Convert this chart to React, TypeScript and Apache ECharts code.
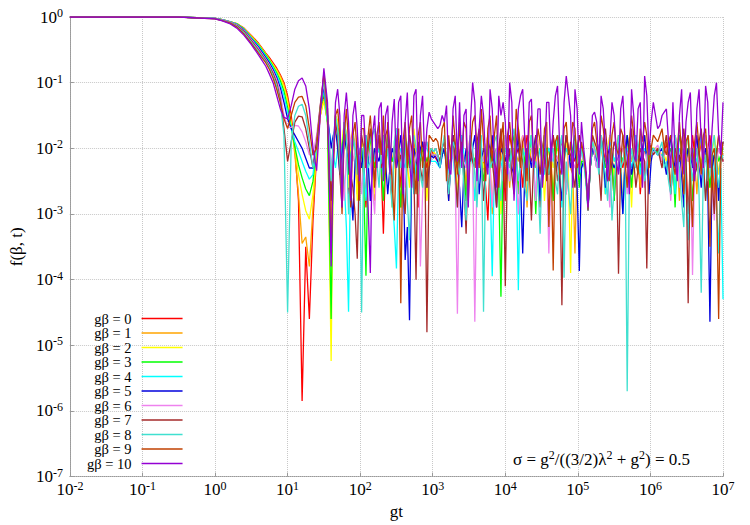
import React, { useEffect, useRef } from "react";
import * as echarts from "echarts";

// log10(gt) sample positions
const gtExp = [
  -2, -1, -0.5, 0, 0.1, 0.2, 0.3, 0.4, 0.5, 0.6, 0.7, 0.75, 0.8, 0.85, 0.9, 0.95, 1.0, 1.05, 1.1, 1.15, 1.2, 1.25, 1.3, 1.35, 1.4, 1.45, 1.5, 1.55,
  1.6, 1.63, 1.66, 1.69, 1.72, 1.75, 1.78, 1.81, 1.84, 1.87, 1.9, 1.93, 1.96, 1.99, 2.02, 2.05, 2.08, 2.11, 2.14, 2.17,
  2.2, 2.23, 2.26, 2.29, 2.32, 2.35, 2.38, 2.41, 2.44, 2.47, 2.5, 2.53, 2.56, 2.59, 2.62, 2.65, 2.68, 2.71, 2.74, 2.77,
  2.8, 2.83, 2.86, 2.89, 2.92, 2.95, 2.98, 3.01, 3.04, 3.07, 3.1, 3.13, 3.16, 3.19, 3.22, 3.25, 3.28, 3.31, 3.34, 3.37,
  3.4, 3.43, 3.46, 3.49, 3.52, 3.55, 3.58, 3.61, 3.64, 3.67, 3.7, 3.73, 3.76, 3.79, 3.82, 3.85, 3.88, 3.91, 3.94, 3.97,
  4, 4.03, 4.06, 4.09, 4.12, 4.15, 4.18, 4.21, 4.24, 4.27, 4.3, 4.33, 4.36, 4.39, 4.42, 4.45, 4.48, 4.51, 4.54, 4.57,
  4.6, 4.63, 4.66, 4.69, 4.72, 4.75, 4.78, 4.81, 4.84, 4.87, 4.9, 4.93, 4.96, 4.99, 5.02, 5.05, 5.08, 5.11, 5.14, 5.17,
  5.2, 5.23, 5.26, 5.29, 5.32, 5.35, 5.38, 5.41, 5.44, 5.47, 5.5, 5.53, 5.56, 5.59, 5.62, 5.65, 5.68, 5.71, 5.74, 5.77,
  5.8, 5.83, 5.86, 5.89, 5.92, 5.95, 5.98, 6.01, 6.04, 6.07, 6.1, 6.13, 6.16, 6.19, 6.22, 6.25, 6.28, 6.31, 6.34, 6.37,
  6.4, 6.43, 6.46, 6.49, 6.52, 6.55, 6.58, 6.61, 6.64, 6.67, 6.7, 6.73, 6.76, 6.79, 6.82, 6.85, 6.88, 6.91, 6.94, 6.97,
  7,
];

// log10 f(β,t) for each gβ
const gb0 = [
  0, 0, 0, -0.02, -0.04, -0.07, -0.1, -0.17, -0.28, -0.4, -0.55, -0.62, -0.7, -0.78, -0.88, -1.0, -1.2, -1.5, -2.0, -2.8, -5.85, -3.5, -4.6, -3.1, -2.1, -1.5, -1.2, -1.6,
  -3.0, -2.0, -1.6, -1.7, -2.2, -2.0, -1.7, -1.9, -2.7, -2.1, -1.8, -2.0, -2.2, -2.1, -2.0, -2.2, -2.9, -2.2, -1.8, -2.0,
  -2.3, -2.1, -1.8, -2.3, -3.3, -2.2, -1.9, -2.0, -2.2, -2.1, -1.7, -2.1, -2.6, -2.1, -1.9, -2.0, -2.2, -2.1, -1.8, -2.2,
  -2.9, -2.2, -1.9, -2.1, -2.3, -2.1, -2.0, -2.1, -2.15, -2.2, -2.2, -2.1, -2.0, -2.2, -2.7, -2.1, -1.8, -2.0, -2.2, -2.1,
  -1.8, -2.2, -2.7, -2.1, -1.9, -2.1, -2.3, -2.1, -1.8, -2.1, -2.2, -2.6, -3.1, -2.2, -1.9, -2.1, -2.4, -2.1, -1.8, -2.2,
  -2.8, -2.1, -1.8, -2.0, -2.2, -2.1, -2.0, -2.2, -2.6, -2.1, -1.8, -2.0, -2.2, -2.1, -2.0, -2.3, -2.9, -2.2, -1.8, -2.1,
  -2.3, -2.1, -1.8, -2.1, -2.2, -2.0, -1.9, -2.1, -2.7, -2.2, -1.9, -2.1, -2.2, -2.0, -1.8, -2.0, -2.1, -2.4, -2.9, -2.3,
  -2.0, -2.1, -2.3, -2.1, -1.8, -2.0, -2.2, -2.1, -2.0, -2.2, -2.8, -2.1, -1.8, -2.1, -2.3, -2.1, -2.0, -2.1, -2.2, -2.0,
  -1.8, -2.1, -2.7, -2.2, -2.0, -2.1, -2.2, -2.1, -2.0, -2.05, -2.05, -2.1, -2.2, -2.1, -1.9, -2.2, -2.6, -2.1, -1.8, -2.0,
  -2.2, -2.1, -1.8, -2.2, -3.0, -2.2, -1.8, -2.1, -2.3, -2.1, -1.9, -2.1, -2.2, -2.0, -1.8, -2.2, -2.7, -2.1, -2.0, -2.1,
  -2.2,
];
const gb1 = [
  0, 0, 0, -0.02, -0.04, -0.07, -0.1, -0.18, -0.29, -0.41, -0.56, -0.64, -0.72, -0.8, -0.9, -1.03, -1.25, -1.6, -2.1, -2.7, -3.45, -3.35, -3.8, -2.9, -2.1, -1.5, -1.25, -1.6,
  -3.2, -2.0, -1.5, -1.6, -2.3, -2.0, -1.6, -1.8, -2.2, -1.9, -1.7, -2.0, -2.7, -2.1, -1.9, -2.0, -2.1, -2.0, -1.8, -2.3,
  -2.8, -2.1, -1.8, -2.1, -2.3, -2.1, -2.0, -2.1, -2.2, -2.0, -1.7, -2.2, -2.9, -2.2, -2.0, -2.1, -2.2, -2.0, -1.8, -2.1,
  -2.6, -2.1, -2.0, -2.1, -2.2, -2.1, -2.0, -2.05, -2.1, -2.15, -2.15, -2.1, -2.0, -2.2, -2.8, -2.1, -1.8, -2.0, -2.2, -2.1,
  -2.0, -2.2, -2.6, -2.1, -1.8, -2.1, -2.3, -2.1, -2.0, -2.1, -2.2, -2.0, -1.8, -2.2, -3.0, -2.2, -2.0, -2.1, -2.2, -2.0,
  -1.8, -2.1, -2.6, -2.1, -2.0, -2.1, -2.2, -2.0, -1.8, -2.2, -2.9, -2.2, -2.0, -2.1, -2.3, -2.0, -1.8, -2.0, -2.2, -2.1,
  -2.0, -2.2, -2.7, -2.1, -1.8, -2.0, -2.2, -2.1, -2.0, -2.1, -2.3, -2.4, -3.6, -2.2, -2.0, -2.1, -2.1, -2.4, -2.85, -2.3,
  -1.8, -2.0, -2.2, -2.1, -2.0, -2.2, -2.7, -2.1, -1.8, -2.0, -2.2, -2.1, -2.0, -2.2, -2.9, -2.1, -1.8, -2.0, -2.2, -2.1,
  -2.0, -2.2, -2.6, -2.1, -1.8, -2.1, -2.2, -2.0, -2.0, -2.0, -2.0, -2.1, -2.2, -2.0, -1.8, -2.1, -2.6, -2.1, -2.0, -2.2,
  -2.8, -2.1, -1.8, -2.0, -2.2, -2.1, -2.0, -2.2, -2.7, -2.1, -1.8, -2.0, -2.2, -2.1, -2.0, -2.2, -3.0, -2.1, -1.8, -2.0,
  -2.1,
];
const gb2 = [
  0, 0, 0, -0.02, -0.04, -0.07, -0.1, -0.18, -0.3, -0.42, -0.57, -0.65, -0.73, -0.82, -0.93, -1.07, -1.3, -1.62, -2.0, -2.4, -2.7, -2.95, -3.08, -2.7, -2.0, -1.5, -1.28, -1.6,
  -5.24, -2.2, -1.5, -1.6, -2.1, -1.9, -1.6, -1.8, -2.6, -2.0, -1.8, -2.1, -2.8, -2.1, -1.9, -2.0, -2.2, -2.1, -1.8, -2.2,
  -2.7, -2.1, -1.8, -2.0, -2.2, -2.1, -2.0, -2.3, -2.9, -2.2, -1.8, -2.0, -2.2, -2.1, -2.0, -2.2, -2.6, -2.1, -1.7, -2.0,
  -2.2, -2.1, -2.0, -2.2, -2.8, -2.1, -2.0, -2.05, -2.1, -2.15, -2.2, -2.1, -2.0, -2.2, -2.5, -2.1, -1.8, -2.1, -2.7, -2.2,
  -2.0, -2.1, -2.2, -2.0, -1.8, -2.2, -2.8, -2.2, -2.0, -2.1, -2.3, -2.1, -1.8, -2.0, -2.2, -2.1, -2.0, -2.3, -3.0, -2.1,
  -1.8, -2.0, -2.2, -2.1, -2.0, -2.2, -2.6, -2.1, -1.8, -2.1, -2.3, -2.1, -2.0, -2.1, -2.2, -2.0, -1.8, -2.2, -2.8, -2.2,
  -2.0, -2.1, -2.3, -2.1, -2.0, -2.1, -2.2, -2.0, -1.8, -2.4, -3.9, -2.2, -2.0, -2.1, -2.3, -2.2, -2.1, -2.4, -2.85, -2.3,
  -1.8, -2.0, -2.1, -2.0, -2.0, -2.1, -2.7, -2.1, -1.8, -2.1, -2.4, -2.1, -2.0, -2.1, -2.2, -2.0, -1.8, -2.2, -2.9, -2.1,
  -2.0, -2.1, -2.2, -2.0, -1.8, -2.1, -2.3, -2.1, -2.0, -2.0, -2.0, -2.05, -2.1, -2.1, -2.2, -2.0, -1.8, -2.1, -2.7, -2.1,
  -2.0, -2.1, -2.2, -2.0, -1.8, -2.2, -2.8, -2.2, -2.0, -2.1, -2.2, -2.1, -2.0, -2.1, -2.6, -2.1, -1.8, -2.1, -2.4, -2.1,
  -2.0,
];
const gb3 = [
  0, 0, 0, -0.02, -0.04, -0.07, -0.105, -0.185, -0.31, -0.43, -0.58, -0.66, -0.75, -0.85, -0.97, -1.13, -1.38, -1.68, -1.98, -2.25, -2.45, -2.62, -2.72, -2.5, -1.95, -1.4, -1.15, -1.6,
  -4.6, -2.1, -1.6, -1.7, -2.2, -2.0, -1.7, -2.0, -2.4, -2.1, -1.9, -2.0, -2.2, -2.4, -2.0, -2.6, -3.94, -2.2, -1.8, -2.1,
  -2.3, -2.1, -2.0, -2.2, -2.8, -2.1, -1.8, -2.0, -2.2, -2.1, -2.0, -2.3, -2.9, -2.2, -1.8, -2.1, -2.3, -2.1, -2.0, -2.2,
  -2.7, -2.2, -2.0, -2.1, -2.2, -2.1, -2.1, -2.1, -2.1, -2.15, -2.2, -2.1, -2.0, -2.2, -2.6, -2.1, -1.8, -2.1, -2.3, -2.1,
  -2.0, -2.3, -2.8, -2.2, -2.0, -2.1, -2.2, -2.0, -1.8, -2.2, -2.5, -2.2, -2.0, -2.1, -2.3, -2.1, -2.0, -2.6, -4.26, -2.2,
  -2.0, -2.1, -2.2, -2.0, -1.8, -2.1, -2.7, -2.1, -2.0, -2.2, -2.3, -2.1, -1.8, -2.2, -3.0, -2.1, -2.0, -2.1, -2.2, -2.0,
  -2.0, -2.3, -2.8, -2.2, -1.8, -2.0, -2.3, -2.1, -2.0, -2.1, -2.2, -2.0, -1.8, -2.1, -2.6, -2.2, -2.2, -2.4, -2.9, -2.3,
  -2.0, -2.1, -2.2, -2.0, -1.8, -2.1, -2.3, -2.1, -2.0, -2.2, -2.8, -2.2, -2.0, -2.1, -2.2, -2.0, -1.8, -2.2, -2.6, -2.1,
  -2.0, -2.1, -2.3, -2.1, -2.0, -2.1, -2.2, -2.0, -2.0, -2.05, -2.05, -2.1, -2.1, -2.2, -2.3, -2.1, -2.0, -2.2, -2.9, -2.1,
  -1.8, -2.0, -2.2, -2.1, -2.0, -2.3, -2.8, -2.2, -2.0, -2.1, -2.3, -2.1, -1.8, -2.2, -2.6, -2.2, -2.1, -2.0, -2.2, -2.1,
  -2.0,
];
const gb4 = [
  0, 0, 0, -0.02, -0.04, -0.07, -0.11, -0.19, -0.32, -0.44, -0.6, -0.68, -0.77, -0.88, -1.02, -1.2, -1.45, -1.7, -1.9, -2.05, -2.2, -2.35, -2.47, -2.4, -1.9, -1.4, -1.1, -1.6,
  -1.9, -2.1, -2.3, -2.0, -1.8, -2.2, -2.5, -3.2, -4.49, -2.2, -1.8, -2.1, -2.3, -2.0, -2.0, -2.3, -2.8, -2.1, -1.8, -2.0,
  -2.2, -2.1, -2.0, -2.2, -2.4, -2.1, -1.8, -2.3, -2.7, -3.2, -3.83, -2.3, -2.0, -2.2, -2.3, -2.0, -1.8, -2.2, -2.7, -2.2,
  -2.0, -2.1, -2.2, -2.0, -2.0, -2.1, -2.2, -2.2, -2.2, -2.25, -2.3, -2.1, -2.0, -2.2, -2.4, -2.2, -2.1, -2.5, -2.9, -2.2,
  -1.8, -2.1, -2.3, -2.1, -2.0, -2.3, -2.8, -2.2, -1.8, -2.1, -2.2, -2.1, -2.0, -2.5, -3.95, -2.3, -2.0, -2.1, -2.3, -2.1,
  -1.8, -2.2, -2.5, -2.1, -2.0, -2.3, -4.16, -2.2, -2.0, -2.1, -2.2, -2.0, -1.8, -2.2, -2.8, -2.2, -2.0, -2.2, -2.4, -2.1,
  -2.0, -2.1, -2.2, -2.0, -1.8, -2.3, -2.9, -2.2, -2.0, -2.1, -2.3, -2.1, -2.0, -2.2, -2.4, -2.3, -2.2, -2.5, -2.95, -2.3,
  -2.0, -2.1, -2.3, -2.2, -1.8, -2.2, -2.7, -2.1, -1.9, -2.0, -2.2, -2.1, -2.0, -2.3, -3.0, -2.2, -2.0, -2.1, -2.3, -2.1,
  -1.8, -2.1, -2.4, -2.1, -2.0, -2.1, -2.2, -2.1, -2.0, -2.05, -2.1, -2.1, -2.1, -2.2, -2.3, -2.1, -1.8, -2.2, -2.7, -2.2,
  -2.0, -2.1, -2.3, -2.5, -3.4, -2.2, -2.0, -2.1, -2.2, -2.0, -1.8, -2.2, -2.8, -2.2, -2.0, -2.1, -2.3, -2.8, -3.6, -2.3,
  -4.3,
];
const gb5 = [
  0, 0, 0, -0.02, -0.045, -0.075, -0.115, -0.2, -0.33, -0.46, -0.62, -0.7, -0.8, -0.92, -1.08, -1.3, -1.55, -1.7, -1.8, -1.9, -2.0, -2.15, -2.3, -2.3, -1.9, -1.4, -1.05, -1.5,
  -2.0, -1.8, -1.7, -2.0, -2.4, -2.1, -1.8, -2.0, -2.2, -2.6, -3.1, -2.2, -1.9, -2.1, -2.3, -2.0, -1.8, -2.2, -2.8, -2.3,
  -2.0, -2.1, -2.2, -2.0, -1.8, -2.2, -2.7, -2.3, -2.0, -2.1, -2.3, -2.1, -1.8, -2.2, -3.7, -3.2, -4.62, -2.3, -2.0, -2.2,
  -2.3, -2.0, -1.9, -2.2, -2.6, -2.3, -2.1, -2.15, -2.1, -2.2, -2.3, -2.1, -2.0, -2.3, -2.8, -2.2, -1.8, -2.1, -2.3, -2.6,
  -3.2, -2.3, -2.0, -2.1, -2.2, -2.0, -1.8, -2.2, -2.7, -2.2, -2.0, -2.1, -2.3, -2.1, -1.8, -2.3, -2.9, -2.2, -2.0, -2.1,
  -2.2, -2.0, -2.1, -2.3, -2.4, -2.1, -1.8, -2.5, -3.6, -2.3, -2.0, -2.1, -2.3, -2.0, -1.8, -2.2, -2.8, -2.2, -2.0, -2.1,
  -2.4, -2.1, -2.0, -2.1, -2.2, -2.5, -2.8, -2.1, -1.8, -2.0, -2.3, -2.1, -2.0, -2.6, -3.87, -2.3, -2.2, -2.4, -2.9, -2.3,
  -2.0, -2.1, -2.2, -2.0, -1.8, -2.1, -2.6, -2.1, -2.0, -2.2, -2.3, -2.2, -2.1, -2.4, -3.0, -2.2, -1.8, -2.1, -2.4, -2.2,
  -2.0, -2.1, -2.2, -2.0, -1.8, -2.2, -2.7, -2.2, -2.0, -2.05, -2.1, -2.05, -2.0, -2.2, -2.4, -2.1, -1.8, -2.1, -2.3, -2.2,
  -2.1, -2.4, -2.9, -2.2, -2.0, -2.1, -2.3, -2.1, -1.8, -2.2, -2.6, -2.1, -2.0, -2.6, -4.64, -2.3, -2.1, -2.2, -2.8, -2.1,
  -1.9,
];
const gb6 = [
  0, 0, 0, -0.02, -0.045, -0.075, -0.12, -0.21, -0.34, -0.48, -0.64, -0.73, -0.83, -0.96, -1.15, -1.5, -1.68, -1.68, -1.65, -1.66, -1.75, -1.9, -2.1, -2.1, -1.8, -1.35, -1.0, -1.5,
  -2.3, -1.9, -1.6, -1.8, -2.0, -2.4, -2.8, -2.1, -1.7, -1.9, -2.2, -2.0, -1.8, -2.1, -2.7, -2.2, -1.9, -2.0, -2.2, -2.6,
  -3.0, -2.1, -1.8, -2.0, -2.3, -2.1, -2.0, -2.3, -2.8, -2.0, -1.8, -2.0, -2.1, -2.3, -2.6, -2.0, -1.8, -2.2, -2.3, -2.1,
  -2.0, -3.8, -2.7, -2.1, -1.9, -2.0, -2.1, -2.1, -2.1, -2.15, -2.2, -2.0, -1.9, -2.2, -2.5, -2.3, -2.0, -2.4, -4.52, -2.2,
  -2.0, -2.2, -2.3, -2.0, -1.8, -2.2, -4.64, -2.3, -2.0, -2.1, -2.2, -2.0, -1.8, -2.3, -2.9, -2.2, -2.0, -2.1, -2.3, -2.5,
  -1.8, -2.1, -2.5, -2.2, -2.0, -2.4, -3.0, -2.1, -1.8, -2.0, -2.2, -2.0, -2.0, -2.3, -2.8, -2.0, -1.8, -2.1, -2.3, -2.2,
  -3.6, -2.3, -2.0, -2.1, -2.2, -2.0, -1.8, -2.2, -2.7, -2.1, -2.0, -2.2, -2.3, -2.1, -2.0, -2.1, -2.2, -2.4, -2.9, -2.2,
  -1.8, -2.1, -2.3, -2.0, -1.8, -1.9, -2.1, -2.4, -2.9, -2.1, -1.9, -2.0, -2.2, -2.1, -2.0, -2.3, -2.7, -2.1, -1.8, -2.0,
  -2.2, -2.1, -2.0, -2.2, -2.6, -2.1, -2.0, -2.0, -2.1, -2.0, -1.95, -2.05, -2.2, -2.1, -2.0, -2.2, -2.8, -2.1, -1.8, -2.0,
  -2.6, -2.2, -2.0, -2.1, -2.2, -2.0, -3.93, -2.2, -2.0, -2.2, -2.4, -2.1, -1.8, -2.0, -2.3, -2.5, -3.1, -2.2, -2.0, -2.1,
  -2.2,
];
const gb7 = [
  0, 0, 0, -0.025, -0.05, -0.08, -0.13, -0.22, -0.36, -0.5, -0.66, -0.75, -0.86, -1.0, -1.25, -1.7, -2.2, -1.9, -1.6, -1.51, -1.52, -1.7, -2.0, -2.3, -1.9, -1.35, -0.9, -1.5,
  -2.8, -2.0, -1.6, -1.8, -2.4, -2.9, -1.7, -1.9, -2.1, -2.4, -2.6, -3.0, -3.68, -2.2, -1.8, -2.0, -2.3, -2.0, -1.7, -2.1,
  -2.5, -2.1, -1.8, -2.3, -2.2, -1.8, -1.7, -2.4, -2.8, -2.0, -1.8, -2.2, -2.1, -2.7, -3.0, -2.1, -1.8, -2.0, -2.4, -4.0,
  -1.9, -2.3, -2.5, -2.0, -4.8, -2.3, -2.0, -2.05, -2.0, -2.1, -2.2, -2.0, -1.9, -2.2, -2.7, -2.0, -1.8, -2.3, -2.9, -2.1,
  -1.9, -2.5, -3.3, -2.1, -2.0, -2.2, -2.3, -1.9, -1.7, -2.2, -2.8, -2.3, -1.9, -2.0, -2.2, -2.5, -2.9, -2.0, -1.7, -2.1,
  -4.1, -2.2, -2.0, -2.4, -2.7, -1.9, -1.7, -2.0, -2.2, -2.6, -2.0, -2.3, -3.1, -2.2, -1.8, -2.1, -2.4, -2.0, -1.8, -2.5,
  -2.2, -2.0, -1.8, -2.1, -2.5, -2.3, -4.39, -2.2, -1.8, -2.0, -2.1, -2.4, -2.6, -2.0, -1.8, -2.0, -2.1, -2.4, -2.95, -2.3,
  -1.8, -1.9, -2.0, -2.3, -2.8, -1.9, -1.7, -2.1, -2.5, -2.2, -1.9, -2.0, -3.91, -2.2, -1.8, -2.1, -2.3, -2.0, -1.7, -2.2,
  -2.6, -2.3, -2.0, -2.1, -2.2, -3.83, -1.9, -2.0, -2.1, -2.05, -2.0, -2.15, -2.3, -2.0, -1.8, -2.2, -2.7, -2.3, -2.0, -2.1,
  -2.2, -1.9, -1.7, -2.1, -4.36, -2.2, -2.0, -2.4, -2.3, -1.9, -1.7, -2.2, -2.8, -2.3, -2.0, -2.5, -3.0, -2.1, -1.8, -2.0,
  -2.2,
];
const gb8 = [
  0, 0, 0, -0.025, -0.05, -0.085, -0.14, -0.24, -0.38, -0.52, -0.68, -0.77, -0.9, -1.05, -1.3, -1.8, -4.5, -1.9, -1.5, -1.36, -1.33, -1.5, -1.9, -2.3, -2.0, -1.4, -0.95, -1.4,
  -2.5, -1.9, -1.5, -1.7, -2.2, -2.8, -1.6, -1.8, -3.0, -2.2, -1.8, -2.0, -2.4, -2.1, -4.5, -2.0, -1.8, -2.3, -2.2, -1.8,
  -1.7, -2.2, -2.6, -2.0, -1.8, -2.3, -2.0, -2.4, -2.9, -1.9, -1.7, -2.1, -2.3, -2.0, -1.8, -2.8, -3.4, -2.2, -1.8, -2.0,
  -2.1, -2.4, -2.6, -2.0, -1.9, -2.1, -2.0, -2.05, -2.0, -2.1, -2.3, -2.0, -1.8, -2.2, -2.7, -2.3, -1.9, -2.0, -2.2, -2.4,
  -2.0, -2.6, -3.1, -2.2, -1.8, -2.0, -2.4, -2.9, -2.1, -1.8, -4.49, -2.2, -1.9, -2.3, -2.2, -1.9, -1.8, -2.4, -2.8, -2.1,
  -2.0, -2.2, -2.3, -1.9, -1.7, -2.1, -2.5, -2.2, -2.0, -2.6, -2.8, -2.0, -1.8, -2.3, -2.2, -2.5, -3.3, -2.1, -1.8, -2.2,
  -2.4, -2.1, -2.0, -2.5, -2.7, -2.0, -1.8, -3.97, -2.2, -2.6, -3.0, -2.3, -1.9, -2.2, -2.3, -2.0, -2.2, -2.5, -2.9, -2.3,
  -1.9, -2.0, -2.1, -2.4, -1.8, -2.2, -2.4, -2.8, -2.0, -3.1, -2.6, -2.1, -1.8, -2.3, -2.2, -2.0, -5.7, -2.4, -2.0, -2.2,
  -2.3, -2.0, -1.8, -2.2, -2.5, -2.3, -2.0, -2.1, -2.0, -2.05, -2.1, -2.0, -1.9, -2.3, -2.2, -2.5, -2.7, -2.2, -1.8, -2.1,
  -2.3, -2.8, -3.2, -2.0, -1.8, -2.2, -2.5, -2.1, -2.0, -2.7, -4.2, -2.3, -2.1, -2.5, -2.4, -2.0, -1.8, -2.3, -2.6, -2.2,
  -2.1,
];
const gb9 = [
  0, 0, 0, -0.03, -0.055, -0.09, -0.15, -0.26, -0.4, -0.55, -0.7, -0.8, -0.93, -1.1, -1.3, -1.55, -1.7, -1.5, -1.3, -1.22, -1.21, -1.35, -1.7, -2.1, -2.0, -1.4, -0.85, -1.4,
  -3.6, -2.3, -1.5, -1.4, -1.8, -3.0, -1.8, -1.4, -1.9, -2.9, -1.8, -1.6, -2.1, -2.8, -1.7, -1.7, -2.3, -1.8, -1.5, -2.0,
  -2.6, -1.8, -1.6, -2.1, -1.5, -2.4, -1.6, -2.0, -2.5, -3.1, -2.0, -1.7, -4.36, -1.9, -1.6, -2.3, -1.7, -1.5, -2.2, -2.7,
  -1.8, -1.6, -2.3, -1.9, -2.6, -1.8, -1.85, -1.9, -1.85, -1.9, -2.1, -1.7, -1.6, -2.5, -1.8, -2.2, -1.5, -1.9, -2.4, -1.6,
  -2.2, -1.6, -1.7, -2.8, -2.0, -1.6, -1.5, -2.0, -2.3, -1.4, -1.9, -2.5, -1.7, -1.5, -2.2, -1.8, -1.5, -2.6, -1.9, -1.6,
  -2.6, -1.8, -1.6, -2.0, -2.4, -1.4, -1.7, -2.3, -1.9, -1.8, -2.5, -1.6, -1.5, -2.2, -2.1, -1.7, -1.9, -2.4, -1.7, -1.6,
  -3.2, -2.0, -3.86, -1.9, -1.8, -2.4, -2.3, -1.7, -1.6, -2.1, -2.0, -1.6, -1.7, -2.3, -2.2, -1.9, -2.1, -2.4, -2.9, -2.2,
  -1.7, -1.6, -1.9, -2.2, -1.5, -1.7, -2.0, -2.5, -2.4, -1.8, -1.6, -2.0, -2.1, -1.7, -1.8, -2.2, -2.6, -1.9, -1.5, -1.8,
  -2.2, -2.4, -1.7, -1.9, -1.6, -1.8, -2.3, -2.0, -1.8, -1.85, -1.9, -1.8, -1.7, -2.0, -2.1, -1.9, -1.8, -2.2, -2.4, -2.0,
  -1.6, -2.1, -2.7, -1.9, -1.8, -2.5, -3.2, -1.9, -1.6, -2.0, -2.4, -1.8, -1.7, -2.3, -3.5, -2.1, -2.0, -2.6, -4.6, -2.2,
  -1.9,
];
const gb10 = [
  0, 0, 0, -0.03, -0.06, -0.1, -0.17, -0.28, -0.42, -0.58, -0.75, -0.87, -1.0, -1.2, -1.4, -1.53, -1.55, -1.35, -1.1, -0.97, -0.93, -1.05, -1.4, -2.0, -2.34, -1.5, -0.78, -1.3,
  -3.8, -2.2, -1.3, -1.1, -1.5, -2.9, -1.5, -1.15, -1.6, -2.8, -1.5, -1.28, -1.7, -2.5, -1.5, -1.5, -2.1, -2.9, -3.9, -1.8,
  -1.5, -2.3, -1.4, -1.3, -2.5, -1.5, -1.35, -2.4, -1.6, -1.25, -2.3, -1.3, -1.2, -2.7, -1.6, -1.15, -2.2, -2.6, -1.2, -1.1,
  -2.5, -1.5, -1.2, -2.2, -1.7, -1.45, -1.55, -1.6, -1.65, -1.7, -1.65, -1.5, -1.6, -1.35, -2.3, -2.4, -1.4, -1.2, -2.2, -1.3,
  -2.3, -1.5, -1.4, -2.9, -1.6, -1.0, -1.3, -2.5, -1.7, -1.2, -1.5, -2.2, -2.4, -1.1, -1.4, -2.2, -2.6, -1.2, -1.5, -1.3,
  -1.6, -2.4, -1.0, -1.3, -2.8, -2.1, -1.4, -1.2, -1.1, -1.9, -2.3, -1.3, -1.25, -2.3, -2.1, -1.4, -1.4, -2.6, -2.2, -1.3,
  -1.3, -2.2, -1.6, -1.2, -1.05, -2.0, -2.4, -1.3, -0.9, -1.2, -1.5, -2.6, -1.1, -1.4, -2.4, -1.6, -2.0, -2.3, -2.9, -2.2,
  -1.5, -1.45, -1.6, -2.3, -1.2, -1.4, -2.0, -2.5, -1.9, -1.3, -1.5, -2.2, -2.4, -1.4, -1.2, -1.9, -2.1, -2.7, -1.1, -1.5,
  -2.2, -1.4, -1.3, -2.6, -0.9, -1.2, -2.1, -1.6, -1.3, -1.5, -1.7, -1.65, -1.5, -1.45, -1.4, -1.9, -2.3, -1.3, -2.1, -2.5,
  -1.5, -1.1, -2.4, -1.6, -1.3, -1.15, -2.2, -2.5, -1.4, -1.1, -1.9, -2.3, -1.05, -1.3, -2.3, -1.7, -1.2, -1.0, -1.8, -2.1,
  -1.3,
];

const seriesNames = [
  "gβ = 0", "gβ = 1", "gβ = 2", "gβ = 3", "gβ = 4", "gβ = 5",
  "gβ = 6", "gβ = 7", "gβ = 8", "gβ = 9", "gβ = 10",
];
const seriesColors = [
  "#ff0000", "#ffa500", "#ffff00", "#00ff00", "#00ffff", "#0000dd",
  "#ee82ee", "#a52a2a", "#40e0d0", "#c04000", "#9400d3",
];

const FONT = "Liberation Serif";

export default function App() {
  const ref = useRef<HTMLDivElement>(null);
  useEffect(() => {
    document.body.style.margin = "0";
    const chart = echarts.init(ref.current!, undefined, { renderer: "svg" });
    const all = [gb0, gb1, gb2, gb3, gb4, gb5, gb6, gb7, gb8, gb9, gb10];
    const powLabel = (v: number) => {
      const e = Math.round(Math.log10(v));
      return `{b|10}{e|${e}}`;
    };
    const rich = {
      b: { fontFamily: FONT, fontSize: 17, color: "#000" },
      e: { fontFamily: FONT, fontSize: 12, color: "#000", padding: [0, 0, 8, 0] },
    };
    chart.setOption({
      animation: false,
      backgroundColor: "#ffffff",
      textStyle: { fontFamily: FONT },
      grid: { left: 62, right: 27, top: 17, bottom: 47 },
      xAxis: {
        type: "log",
        logBase: 10,
        min: 0.01,
        max: 1e7,
        splitNumber: 9,
        name: "gt",
        nameLocation: "middle",
        nameGap: 25,
        nameTextStyle: { fontFamily: FONT, fontSize: 17, color: "#000" },
        axisLine: { show: true, lineStyle: { color: "#999", type: "dotted", width: 1 } },
        axisTick: { show: true, inside: true, length: 4, lineStyle: { color: "#999" } },
        axisLabel: { formatter: powLabel, rich, margin: 3 },
        splitLine: { show: true, lineStyle: { color: "#c8c8c8", type: "dotted", width: 1 } },
      },
      yAxis: {
        type: "log",
        logBase: 10,
        min: 1e-7,
        max: 1,
        splitNumber: 7,
        name: "f(β, t)",
        nameLocation: "middle",
        nameGap: 38,
        nameRotate: 90,
        nameTextStyle: { fontFamily: FONT, fontSize: 17, color: "#000" },
        axisLine: { show: true, lineStyle: { color: "#999", type: "dotted", width: 1 } },
        axisTick: { show: true, inside: true, length: 4, lineStyle: { color: "#999" } },
        axisLabel: { formatter: powLabel, rich, margin: 7 },
        splitLine: { show: true, lineStyle: { color: "#c8c8c8", type: "dotted", width: 1 } },
      },
      legend: {
        orient: "vertical",
        left: 87,
        top: 311,
        align: "right",
        icon: "rect",
        itemWidth: 41,
        itemHeight: 1.6,
        itemGap: -0.5,
        padding: 0,
        selectedMode: false,
        data: seriesNames,
        textStyle: { fontFamily: FONT, fontSize: 14.5, color: "#000", lineHeight: 14, padding: [0, 5, 0, 0] },
      },
      graphic: [
        {
          type: "text",
          left: 513,
          top: 449,
          style: {
            text: "σ = g{s|2}/((3/2)λ{s|2} + g{s|2}) = 0.5",
            fontFamily: FONT,
            fontSize: 17,
            fill: "#000",
            rich: {
              s: { fontFamily: FONT, fontSize: 12, fill: "#000", padding: [0, 0, 8, 0] },
            },
          },
        },
      ],
      series: all.map((arr, k) => ({
        name: seriesNames[k],
        type: "line",
        symbol: "none",
        color: seriesColors[k],
        lineStyle: { color: seriesColors[k], width: 1.3 },
        data: gtExp.map((e, i) => [Math.pow(10, e), Math.pow(10, arr[i])]),
      })),
    });
    return () => chart.dispose();
  }, []);
  return <div ref={ref} style={{ width: 750, height: 525 }} />;
}
